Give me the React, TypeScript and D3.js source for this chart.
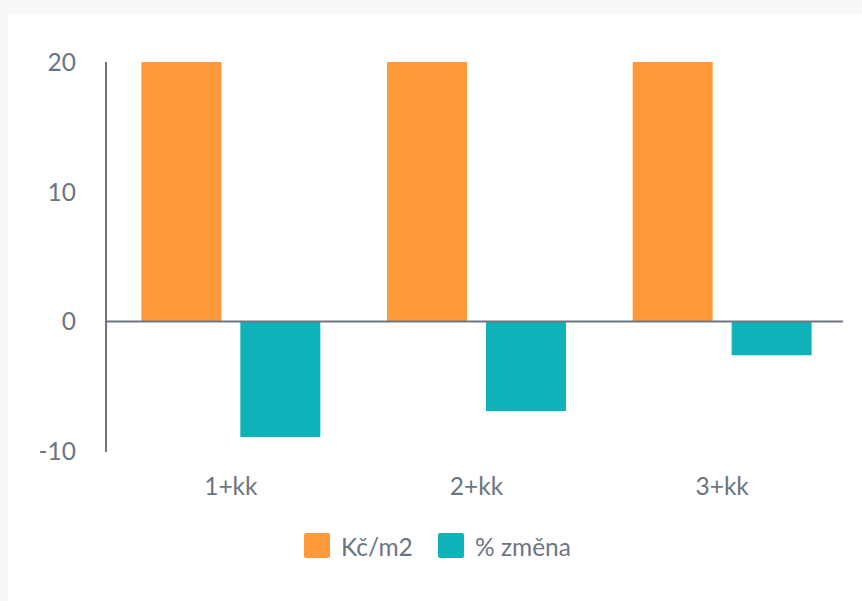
import React from "react";
import * as d3 from "d3";

const categories = ["1+kk", "2+kk", "3+kk"];
const seriesNames = ["Kč/m2", "% změna"];
const priceValues = [20, 20, 20];
const changeValues = [-8.9, -6.9, -2.6];
const yTicks = [20, 10, 0, -10];
const colors = ["#FF9A3B", "#10B2BA"];

const W = 862;
const H = 601;
const textColor = "#6B7682";
const axisColor = "#6E7681";
const font = "Lato, 'Open Sans', sans-serif";
const fs = 24.5;

export default function App() {
  const y = d3.scaleLinear().domain([-10, 20]).range([451.3, 62]);
  const x0 = d3.scaleBand<string>().domain(categories).range([108, 845]).paddingInner(0).paddingOuter(0);
  const x1 = d3
    .scaleBand<string>()
    .domain(seriesNames)
    .range([0, x0.bandwidth()])
    .paddingInner(0.192)
    .paddingOuter(0.337);
  const seriesValues = [priceValues, changeValues];

  return (
    <div style={{ position: "fixed", left: 0, top: 0, width: W, height: H }}>
      <svg width={W} height={H} style={{ display: "block", fontFamily: font }}>
        <rect x={0} y={0} width={W} height={H} fill="#F8F8F8" />
        <rect x={8} y={14} width={W} height={H} fill="#FFFFFF" />
        {categories.map((c, i) =>
          seriesNames.map((s, j) => {
            const v = seriesValues[j][i];
            const top = y(Math.max(0, v));
            const bot = y(Math.min(0, v));
            return (
              <rect
                key={c + s}
                x={(x0(c) ?? 0) + (x1(s) ?? 0)}
                y={top}
                width={x1.bandwidth()}
                height={bot - top}
                fill={colors[j]}
              />
            );
          })
        )}
        <line x1={106} x2={106} y1={y(20)} y2={452} stroke={axisColor} strokeWidth={2} />
        <line x1={105} x2={843} y1={y(0)} y2={y(0)} stroke={axisColor} strokeWidth={2} />
        {yTicks.map((t) => (
          <text
            key={t}
            x={76}
            y={y(t)}
            dy="0.36em"
            textAnchor="end"
            fontSize={fs}
            fill={textColor}
          >
            {t}
          </text>
        ))}
        {categories.map((c) => (
          <text
            key={c}
            x={(x0(c) ?? 0) + x0.bandwidth() / 2}
            y={495}
            textAnchor="middle"
            fontSize={fs}
            fill={textColor}
          >
            {c}
          </text>
        ))}
        <g>
          <rect x={304} y={533} width={26} height={25} rx={2} fill={colors[0]} />
          <text x={341} y={556} fontSize={fs} fill={textColor}>
            {seriesNames[0]}
          </text>
          <rect x={438} y={533} width={26} height={25} rx={2} fill={colors[1]} />
          <text x={475} y={556} fontSize={fs} fill={textColor}>
            {seriesNames[1]}
          </text>
        </g>
      </svg>
    </div>
  );
}
